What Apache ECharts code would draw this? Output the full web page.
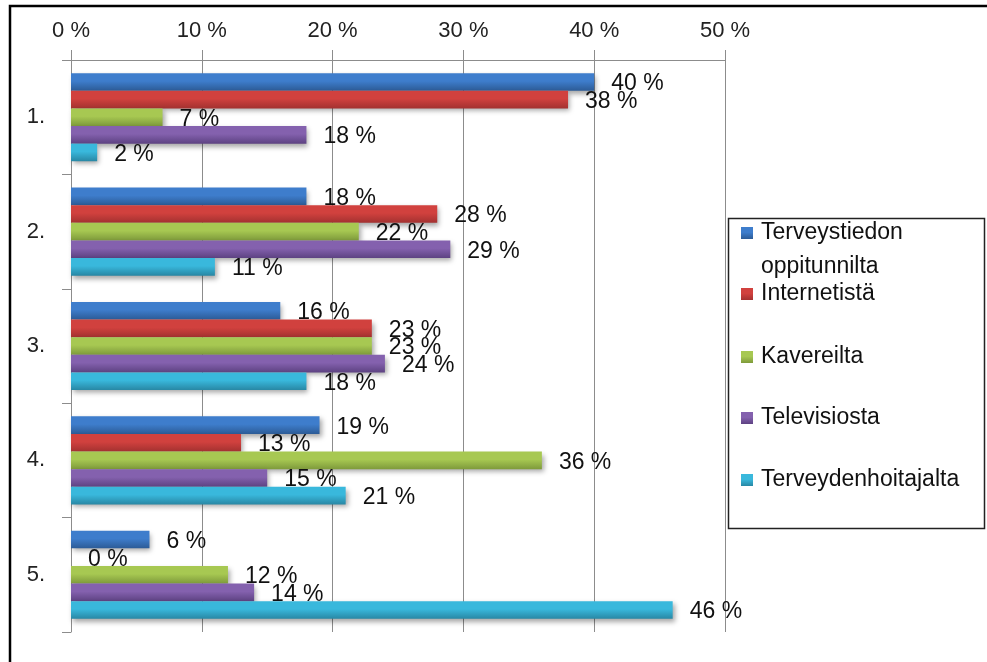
<!DOCTYPE html>
<html>
<head>
<meta charset="utf-8">
<script src="https://cdn.jsdelivr.net/npm/echarts@6/dist/echarts.min.js"></script>
<style>
  html, body { margin: 0; padding: 0; background: #fff; }
  #chart { width: 987px; height: 662px; }
</style>
</head>
<body>
<div id="chart"></div>
<script>
// Categories (answer rank) and the share of each information source
const categories = ['1.', '2.', '3.', '4.', '5.'];
const seriesNames = ['Terveystiedon oppitunnilta', 'Internetistä', 'Kavereilta', 'Televisiosta', 'Terveydenhoitajalta'];
const terveystiedonOppitunnilta = [40, 18, 16, 19, 6];
const internetista = [38, 28, 23, 13, 0];
const kavereilta = [7, 22, 23, 36, 12];
const televisiosta = [18, 29, 24, 15, 14];
const terveydenhoitajalta = [2, 11, 18, 21, 46];
const xTicks = [0, 10, 20, 30, 40, 50];

const seriesValues = [terveystiedonOppitunnilta, internetista, kavereilta, televisiosta, terveydenhoitajalta];

const FONT = '"Liberation Sans", Arial, sans-serif';

// Office-style bevelled fills: lighter top edge, darker bottom edge
const fills = [
  ['#3e7dcc', '#2c5b96'],
  ['#d1413e', '#a33130'],
  ['#a7c852', '#7e9a3b'],
  ['#8461ae', '#5d4282'],
  ['#39b8dc', '#2887a4']
];

function grad(c) {
  return new echarts.graphic.LinearGradient(0, 0, 0, 1, [
    { offset: 0, color: c[0] },
    { offset: 0.45, color: c[0] },
    { offset: 1, color: c[1] }
  ]);
}

const axisGray = '#8c8c8c';

const series = seriesNames.map((name, i) => ({
  name: name,
  type: 'bar',
  data: seriesValues[i],
  barGap: '0%',
  barCategoryGap: '23%',
  itemStyle: {
    color: grad(fills[i]),
    shadowColor: 'rgba(0,0,0,0.35)',
    shadowBlur: 5,
    shadowOffsetX: 2,
    shadowOffsetY: 3
  },
  label: {
    show: true,
    position: 'right',
    distance: 17,
    offset: [0, 2],
    formatter: p => p.value + ' %',
    fontFamily: FONT,
    fontSize: 23,
    color: '#111'
  }
}));

// Legend rows sit at uneven heights inside the box, so each gets its own legend
const legendCenters = [233, 294, 357, 418, 480];
const legends = seriesNames.map((name, i) => {
  const twoLine = i === 0;
  return {
    data: [name],
    orient: 'vertical',
    left: 741,
    top: twoLine ? legendCenters[i] - 51 : legendCenters[i] - 15,
    padding: 0,
    icon: 'rect',
    itemWidth: 12,
    itemHeight: 12,
    selectedMode: false,
    formatter: twoLine ? (n => '\n' + n.replace(' ', '\n')) : (n => n),
    textStyle: {
      fontFamily: FONT,
      fontSize: 23,
      lineHeight: twoLine ? 34 : 30,
      color: '#111',
      padding: [0, 0, 0, 3]
    }
  };
});

const chart = echarts.init(document.getElementById('chart'), null, { renderer: 'canvas' });

chart.setOption({
  animation: false,
  backgroundColor: '#fff',
  grid: { left: 71, right: 262, top: 60, bottom: 30, containLabel: false },
  xAxis: {
    type: 'value',
    position: 'top',
    min: xTicks[0],
    max: xTicks[xTicks.length - 1],
    interval: xTicks[1] - xTicks[0],
    axisLine: { show: true, lineStyle: { color: axisGray, width: 1 } },
    axisTick: { show: true, length: 10, inside: false, lineStyle: { color: axisGray } },
    splitLine: { show: true, lineStyle: { color: axisGray, width: 1 } },
    axisLabel: {
      formatter: '{value} %',
      fontFamily: FONT,
      fontSize: 22,
      color: '#222',
      margin: 18
    }
  },
  yAxis: {
    type: 'category',
    inverse: true,
    data: categories,
    axisLine: { show: true, lineStyle: { color: axisGray, width: 1 } },
    axisTick: { show: true, length: 9, inside: false, lineStyle: { color: axisGray } },
    splitLine: { show: false },
    axisLabel: {
      fontFamily: FONT,
      fontSize: 22,
      color: '#222',
      margin: 26
    }
  },
  legend: legends,
  series: series,
  graphic: [
    {
      // outer frame of the chart area
      type: 'polyline',
      silent: true,
      shape: { points: [[10, 700], [10, 6], [1000, 6]] },
      style: { stroke: '#000', lineWidth: 2.5, fill: null }
    },
    {
      // legend frame
      type: 'rect',
      silent: true,
      z: -1,
      shape: { x: 728.5, y: 218.5, width: 256, height: 310 },
      style: { stroke: '#222', lineWidth: 1.5, fill: '#fff' }
    }
  ]
});
</script>
</body>
</html>
